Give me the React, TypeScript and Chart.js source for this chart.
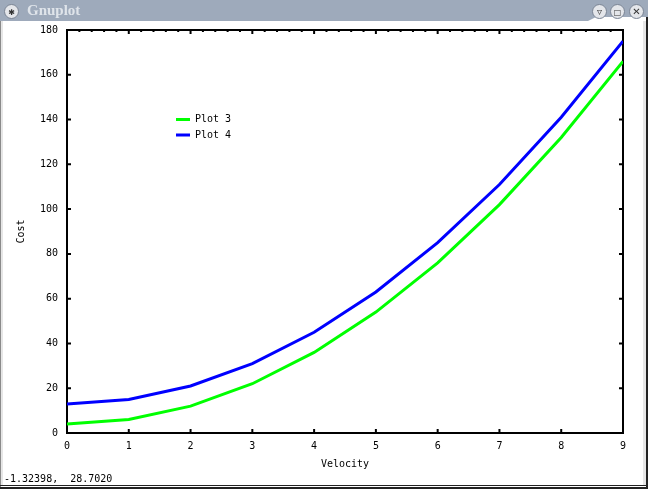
import React, { useEffect, useRef } from "react";
import { Chart, registerables } from "chart.js";

Chart.register(...registerables);

// ---- data ----
const velocity = [0, 1, 2, 3, 4, 5, 6, 7, 8, 9];
const plot3 = [4, 6, 12, 22, 36, 54, 76, 102, 132, 166];
const plot4 = [13, 15, 21, 31, 45, 63, 85, 111, 141, 175];
const seriesLabels = ["Plot 3", "Plot 4"];
const seriesColors = ["#00ff00", "#0000ff"];
const xRange = [0, 9];
const yRange = [0, 180];
const yStep = 20;
const xTitle = "Velocity";
const yTitle = "Cost";
const statusText = "-1.32398,  28.7020";
const windowTitle = "Gnuplot";

const MONO = "'DejaVu Sans Mono', monospace";

const framePlugin = {
  id: "gnuFrame",
  beforeDatasetsDraw(chart: any) {
    const { ctx, chartArea, scales } = chart;
    const { left, right, top, bottom } = chartArea;
    const x = scales.x;
    const y = scales.y;
    ctx.save();
    ctx.strokeStyle = "#000";
    ctx.lineWidth = 2;
    ctx.strokeRect(left, top, right - left, bottom - top);
    ctx.beginPath();
    x.ticks.forEach((t: any) => {
      const px = x.getPixelForValue(t.value);
      ctx.moveTo(px, bottom);
      ctx.lineTo(px, bottom - 4);
      ctx.moveTo(px, top);
      ctx.lineTo(px, top + 4);
    });
    const nMinor = Math.round((x.max - x.min) * 5);
    for (let i = 1; i < nMinor; i++) {
      if (i % 5 === 0) continue;
      const px = x.getPixelForValue(x.min + i / 5);
      ctx.moveTo(px, top);
      ctx.lineTo(px, top + 2);
    }
    y.ticks.forEach((t: any) => {
      const py = y.getPixelForValue(t.value);
      ctx.moveTo(left, py);
      ctx.lineTo(left + 4, py);
      ctx.moveTo(right, py);
      ctx.lineTo(right - 4, py);
    });
    ctx.stroke();
    ctx.restore();
  },
  afterDatasetsDraw(chart: any) {
    const { ctx } = chart;
    ctx.save();
    ctx.font = `10px ${MONO}`;
    ctx.textBaseline = "middle";
    ctx.textAlign = "left";
    chart.data.datasets.forEach((ds: any, i: number) => {
      const yy = 119.5 + i * 15.5;
      ctx.strokeStyle = ds.borderColor;
      ctx.lineWidth = 3;
      ctx.beginPath();
      ctx.moveTo(176, yy);
      ctx.lineTo(190, yy);
      ctx.stroke();
      ctx.fillStyle = "#000";
      ctx.fillText(ds.label, 195, yy);
    });
    ctx.restore();
  },
};

function Circle({ x, children }: { x: number; children?: any }) {
  return (
    <div
      style={{
        position: "absolute",
        left: x - 7,
        top: 4,
        width: 13,
        height: 13,
        borderRadius: "50%",
        background: "#e4e6ea",
        border: "1px solid #7a8494",
        fontSize: 10,
        lineHeight: "13px",
        textAlign: "center",
        color: "#333",
        fontFamily: "'DejaVu Sans', sans-serif",
        fontWeight: "bold",
      }}
    >
      {children}
    </div>
  );
}

export default function App() {
  const ref = useRef<HTMLCanvasElement | null>(null);

  useEffect(() => {
    document.body.style.margin = "0";
    const canvas = ref.current!;
    const chart = new Chart(canvas, {
      type: "line",
      data: {
        datasets: [plot3, plot4].map((vals, i) => ({
          label: seriesLabels[i],
          data: velocity.map((v, j) => ({ x: v, y: vals[j] })),
          borderColor: seriesColors[i],
          backgroundColor: seriesColors[i],
          borderWidth: 3,
          pointRadius: 0,
          tension: 0,
          fill: false,
        })),
      },
      options: {
        responsive: false,
        maintainAspectRatio: false,
        animation: false,
        events: [],
        layout: { padding: { top: 30, right: 25, left: 0, bottom: 0 } },
        plugins: { legend: { display: false }, tooltip: { enabled: false } },
        scales: {
          x: {
            type: "linear",
            min: xRange[0],
            max: xRange[1],
            grid: { display: false, drawTicks: false },
            border: { display: false },
            ticks: {
              stepSize: 1,
              color: "#000",
              padding: 7,
              font: { family: MONO, size: 10 },
              maxRotation: 0,
            },
            title: {
              display: true,
              text: xTitle,
              color: "#000",
              font: { family: MONO, size: 10 },
              padding: { top: 0, bottom: 19 },
            },
            afterFit: (s: any) => {
              s.height = 56;
            },
          },
          y: {
            type: "linear",
            min: yRange[0],
            max: yRange[1],
            grid: { display: false, drawTicks: false },
            border: { display: false },
            ticks: {
              stepSize: yStep,
              color: "#000",
              padding: 9,
              font: { family: MONO, size: 10 },
            },
            title: {
              display: true,
              text: yTitle,
              color: "#000",
              font: { family: MONO, size: 10 },
              padding: { top: 15, bottom: 0 },
            },
            afterFit: (s: any) => {
              s.width = 67;
            },
          },
        },
      },
      plugins: [framePlugin],
    });
    return () => chart.destroy();
  }, []);

  return (
    <div
      style={{
        position: "fixed",
        left: 0,
        top: 0,
        width: 648,
        height: 489,
        background: "#fff",
        overflow: "hidden",
      }}
    >
      <canvas
        ref={ref}
        width={648}
        height={489}
        style={{ position: "absolute", left: 0, top: 0, width: 648, height: 489 }}
      />
      {/* title bar */}
      <div
        style={{
          position: "absolute",
          left: 0,
          top: 0,
          width: 648,
          height: 21,
          background: "#9eaabb",
          clipPath: "polygon(0 0, 648px 0, 648px 17px, 596px 17px, 588px 21px, 0 21px)",
        }}
      />
      <div
        style={{
          position: "absolute",
          left: 27,
          top: 1,
          fontFamily: "'Liberation Serif', serif",
          fontWeight: "bold",
          fontSize: 15,
          lineHeight: "18px",
          color: "#dfe4ea",
        }}
      >
        {windowTitle}
      </div>
      <Circle x={11}>
        <span style={{ fontSize: 8 }}>✱</span>
      </Circle>
      <Circle x={599}>▿</Circle>
      <Circle x={617}>
        <span style={{ fontSize: 8 }}>□</span>
      </Circle>
      <Circle x={636}>✕</Circle>
      {/* frame edges */}
      <div style={{ position: "absolute", left: 0, top: 21, width: 1, height: 468, background: "#8a8a8a" }} />
      <div style={{ position: "absolute", left: 1, top: 21, width: 2, height: 464, background: "#e6e6e6" }} />
      <div style={{ position: "absolute", left: 643, top: 21, width: 3, height: 464, background: "#e6e6e6" }} />
      <div style={{ position: "absolute", left: 646, top: 17, width: 2, height: 472, background: "#222" }} />
      <div style={{ position: "absolute", left: 0, top: 485, width: 648, height: 1, background: "#222" }} />
      <div style={{ position: "absolute", left: 0, top: 487, width: 648, height: 2, background: "#222" }} />
      {/* status text */}
      <div
        style={{
          position: "absolute",
          left: 4,
          top: 473,
          fontFamily: MONO,
          fontSize: 10,
          lineHeight: "12px",
          color: "#000",
          whiteSpace: "pre",
        }}
      >
        {statusText}
      </div>
    </div>
  );
}
